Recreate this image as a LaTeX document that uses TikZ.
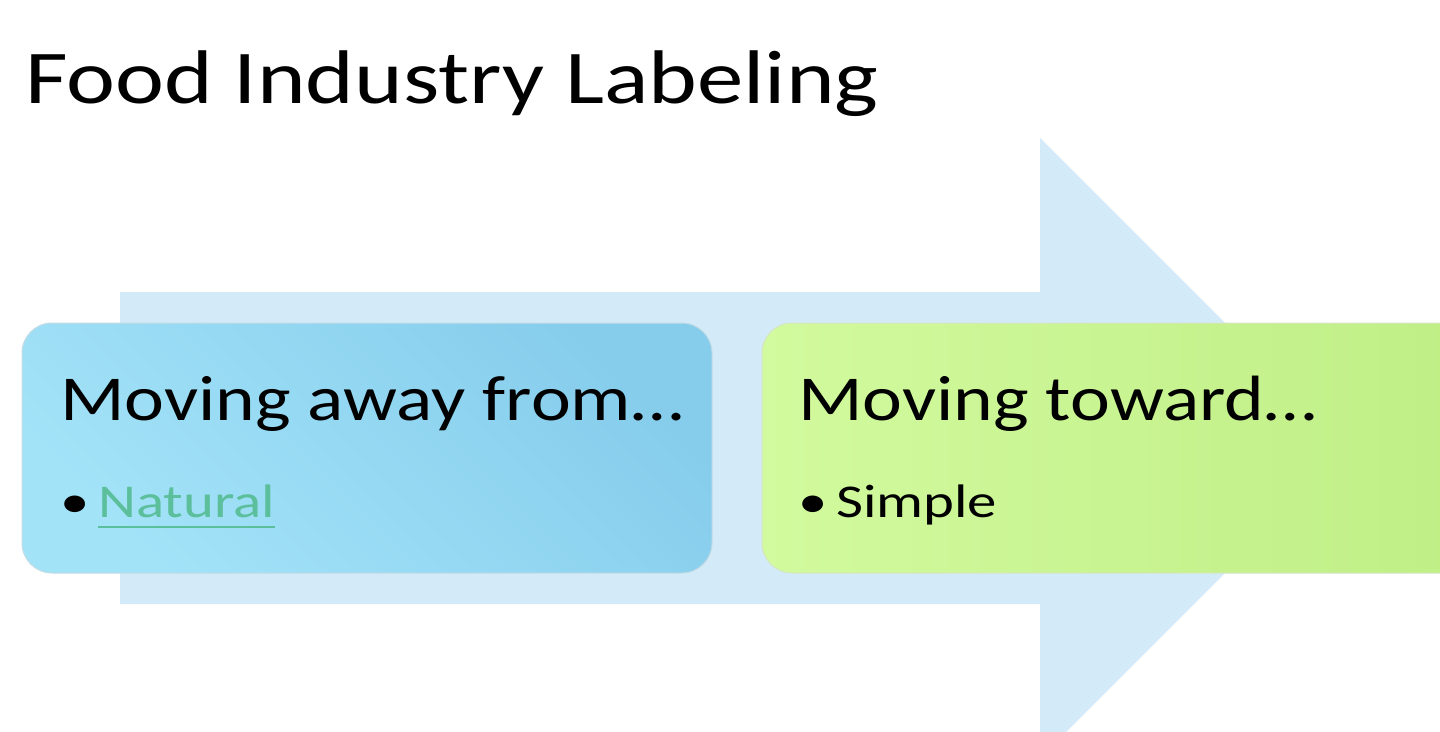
\documentclass[tikz,border=0pt]{standalone}
\usepackage{fontspec}
\setmainfont{Carlito}
\definecolor{arrowc}{HTML}{D3EBF8}
\definecolor{bluea}{HTML}{A3E3F8}
\definecolor{blueb}{HTML}{86CDEC}
\definecolor{greena}{HTML}{D2FA9E}
\definecolor{greenb}{HTML}{BFEE85}
\definecolor{natc}{HTML}{5CBF9C}
\begin{document}
\begin{tikzpicture}[x=1pt,y=-1pt,
  box/.style={rounded corners=30pt,line width=1pt},
  head/.style={font=\fontsize{64}{70}\selectfont,anchor=base west,inner sep=0,xscale=1.18},
  item/.style={font=\fontsize{47}{54}\selectfont,anchor=base west,inner sep=0,xscale=1.25}]
\useasboundingbox (0,0) rectangle (1440,731);
\begin{scope}
\clip (0,0) rectangle (1440,731);
\fill[arrowc] (120,292) -- (1040,292) -- (1040,138) -- (1350,448) -- (1040,758) -- (1040,604) -- (120,604) -- cycle;
\shade[box,draw=blueb!80!black!40,top color=bluea,bottom color=blueb,shading angle=135] (22,323) rectangle (712,573);
\shade[box,draw=greenb!80!black!40,left color=greena,right color=greenb] (762,323) rectangle (1480,573);
\end{scope}
\node[anchor=base west,inner sep=0,font=\fontsize{76}{90}\selectfont,xscale=1.22] (title) at (25,103) {Food Industry Labeling};
\node[head] (h1) at (60,420) {Moving away from…};
\node[item] (b1) at (60,517) {•};
\node[item,text=natc] (nat) at (98,517) {Natural};
\draw[natc,line width=1.5pt] (nat.base west) ++(0,10) -- ([yshift=-10pt]nat.base east);
\node[head] (h2) at (798,420) {Moving toward…};
\node[item] (b2) at (798,517) {•};
\node[item] (s) at (836,517) {Simple};
\end{tikzpicture}
\end{document}
